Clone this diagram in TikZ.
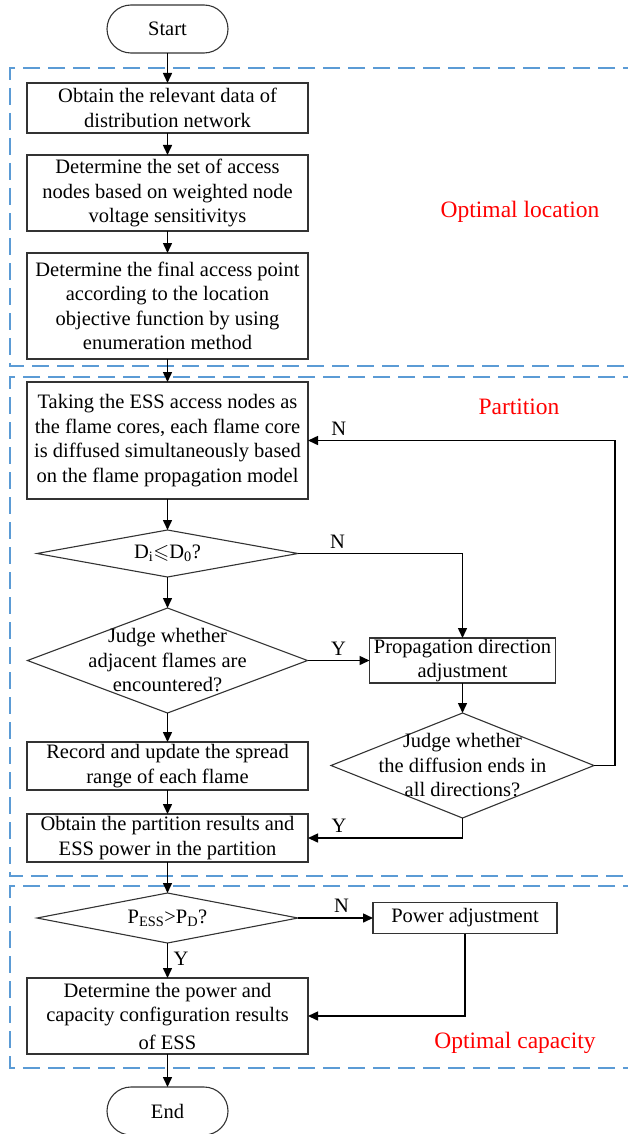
\documentclass[tikz,border=0pt]{standalone}
\usepackage{amssymb}
\usepackage{fontspec}
\setmainfont{Liberation Serif}
\usetikzlibrary{arrows.meta,positioning,shapes.geometric}
\definecolor{zoneblue}{RGB}{91,155,213}
\begin{document}
\begin{tikzpicture}[x=1pt,y=-1pt,font=\fontsize{20.5}{24.5}\selectfont,
 box/.style={draw=black!80,line width=1.1pt,align=center,minimum width=281pt,inner xsep=2pt,inner ysep=0pt,outer sep=0pt},
 term/.style={draw=black!80,line width=1.1pt,rounded corners=24pt,minimum width=121pt,minimum height=48pt,inner sep=0pt,outer sep=0pt},
 dec/.style={draw=black!80,line width=1.1pt,diamond,inner sep=0pt,outer sep=0pt},
 arr/.style={-{Triangle[length=10pt,width=9pt]},line width=1.5pt},
 region/.style={draw=zoneblue,line width=1.3pt,dash pattern=on 17pt off 8pt},
 zone/.style={text=red,font=\fontsize{23.5}{28}\selectfont}]
\useasboundingbox (0,0) rectangle (628,1134);
\draw[region] (640,68) -- (10,68) -- (10,366) -- (640,366);
\draw[region] (640,377) -- (10,377) -- (10,876) -- (640,876);
\draw[region] (640,886) -- (10,886) -- (10,1068) -- (640,1068);
\node[term] (start) at (167.5,29) {Start};
\node[box,minimum height=50pt,below=30pt of start] (data) {Obtain the relevant data of\\distribution network};
\node[box,minimum height=76pt,below=22pt of data] (set) {Determine the set of access\\nodes based on weighted node\\voltage sensitivitys};
\node[box,minimum height=106pt,below=22pt of set] (final) {Determine the final access point\\according to the location\\objective function by using\\enumeration method};
\node[box,minimum height=117pt,below=23pt of final] (flame) {Taking the ESS access nodes as\\the flame cores, each flame core\\is diffused simultaneously based\\on the flame propagation model};
\node[dec,minimum width=261pt,minimum height=47pt,below=31pt of flame,
 label={center:D\textsubscript{i}$\leqslant$D\textsubscript{0}?}] (dist) {};
\node[dec,minimum width=280pt,minimum height=105pt,below=31pt of dist,
 label={[align=center]center:Judge whether\\adjacent flames are\\encountered?}] (meet) {};
\node[box,minimum height=48pt,below=29pt of meet] (rec) {Record and update the spread\\range of each flame};
\node[box,minimum height=48pt,below=24pt of rec] (part) {Obtain the partition results and\\ESS power in the partition};
\node[dec,minimum width=261pt,minimum height=50pt,below=31pt of part,
 label={center:P\textsubscript{ESS}>P\textsubscript{D}?}] (pess) {};
\node[box,minimum height=76pt,below=35pt of pess] (cap) {Determine the power and\\capacity configuration results\\[3pt]of ESS};
\node[term,below=33pt of cap] (stop) {End};
\node[box,minimum width=186pt,minimum height=45pt,right=62pt of meet] (prop) {Propagation direction\\adjustment};
\node[dec,minimum width=263pt,minimum height=105pt,below=30pt of prop,
 label={[align=center]center:Judge whether\\the diffusion ends in\\all directions?}] (ends) {};
\node[box,minimum width=184pt,minimum height=31pt,right=75pt of pess] (padj) {Power adjustment};
\node[zone] (loclab) at (520,212) {Optimal location};
\node[zone] (partlab) at (519,407) {Partition};
\node[zone] (caplab) at (515,1043) {Optimal capacity};
\draw[arr] (start)--(data); \draw[arr] (data)--(set); \draw[arr] (set)--(final);
\draw[arr] (final)--(flame); \draw[arr] (flame)--(dist); \draw[arr] (dist)--(meet);
\draw[arr] (meet)--(rec); \draw[arr] (rec)--(part); \draw[arr] (part)--(pess);
\draw[arr] (pess)-- node[pos=.45,right=2pt] (y4) {Y} (cap); \draw[arr] (cap)--(stop);
\draw[arr] (dist.east) -| node[pos=.12,above=1pt] (n1) {N} (prop.north);
\draw[arr] (meet.east) -- node[above=1pt] (y1) {Y} (prop.west);
\draw[arr] (prop)--(ends);
\draw[arr] (ends.east) -- ++(21pt,0) |- node[pos=.95,above=1pt] (n2) {N} (flame.east);
\draw[arr] (ends.south) |- node[pos=.9,above=1pt] (y2) {Y} (part.east);
\draw[arr] (pess.east) -- node[pos=.58,above=1pt] (n3) {N} (padj.west);
\draw[arr] (padj.south) |- (cap.east);
\end{tikzpicture}
\end{document}
